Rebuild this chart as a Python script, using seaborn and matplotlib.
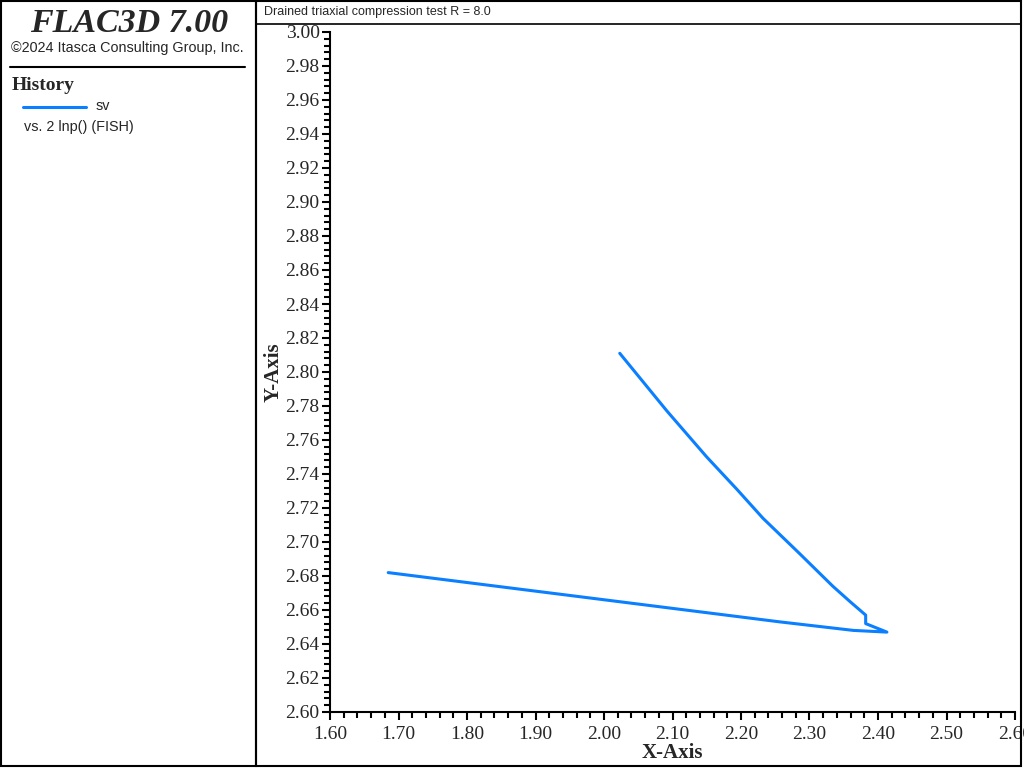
import matplotlib
matplotlib.use("Agg")
import matplotlib.pyplot as plt
from matplotlib.patches import Rectangle
from matplotlib.lines import Line2D
from matplotlib.ticker import MultipleLocator, FormatStrFormatter
import seaborn as sns
import pandas as pd

# sv history vs. 2 lnp() (FISH)
x_vals = [2.023, 2.092, 2.150, 2.194, 2.232, 2.286, 2.334, 2.359, 2.382, 2.382,
          2.413, 2.364, 2.257, 1.685]
y_vals = [2.811, 2.777, 2.750, 2.731, 2.714, 2.693, 2.674, 2.665, 2.657, 2.652,
          2.647, 2.648, 2.653, 2.682]

title_text = "Drained triaxial compression test R = 8.0"
series_name = "sv"
x_label = "X-Axis"
y_label = "Y-Axis"

df = pd.DataFrame({"x": x_vals, "y": y_vals})

sns.set_theme(style="white")
plt.rcParams["font.family"] = ["Liberation Sans", "DejaVu Sans"]

W, H = 1024, 768
fig = plt.figure(figsize=(W / 100, H / 100), dpi=100)


def fx(px):
    return px / W


def fy(py):
    return 1 - py / H


line_color = "#0a7fff"

# panel frames
fig.add_artist(Rectangle((fx(1), fy(766)), fx(255), 765 / H, transform=fig.transFigure,
                         fill=False, edgecolor="black", lw=1.5))
fig.add_artist(Rectangle((fx(256), fy(766)), fx(765), 765 / H, transform=fig.transFigure,
                         fill=False, edgecolor="black", lw=1.5))
fig.add_artist(Line2D([fx(256), fx(1021)], [fy(24), fy(24)], transform=fig.transFigure,
                      color="black", lw=1.2))

# left panel text
fig.text(fx(129), fy(23), "FLAC3D 7.00", family="Liberation Serif", weight="bold",
         style="italic", fontsize=24.5, ha="center", va="center")
fig.text(fx(127), fy(48), "\u00a92024 Itasca Consulting Group, Inc.", fontsize=10.4,
         ha="center", va="center")
fig.add_artist(Line2D([fx(10), fx(245)], [fy(67), fy(67)], transform=fig.transFigure,
                      color="black", lw=1.5))
fig.text(fx(12), fy(86), "History", family="Liberation Serif", weight="bold",
         fontsize=14, ha="left", va="center")
fig.add_artist(Line2D([fx(23), fx(86)], [fy(107), fy(107)], transform=fig.transFigure,
                      color=line_color, lw=2.2))
fig.text(fx(96), fy(106), series_name, fontsize=10.4, ha="left", va="center")
fig.text(fx(24), fy(127), "vs. 2 lnp() (FISH)", fontsize=10.4, ha="left", va="center")

# plot title
fig.text(fx(264), fy(12), title_text, fontsize=9, ha="left", va="center")

ax = fig.add_axes([fx(330), fy(712), fx(1015 - 330), (712 - 32) / H])
sns.lineplot(data=df, x="x", y="y", sort=False, estimator=None, color=line_color,
             lw=2.2, ax=ax)

ax.set_xlim(1.60, 2.60)
ax.set_ylim(2.60, 3.00)
ax.xaxis.set_major_locator(MultipleLocator(0.1))
ax.xaxis.set_minor_locator(MultipleLocator(0.02))
ax.yaxis.set_major_locator(MultipleLocator(0.02))
ax.yaxis.set_minor_locator(MultipleLocator(0.004))
ax.xaxis.set_major_formatter(FormatStrFormatter("%.2f"))
ax.yaxis.set_major_formatter(FormatStrFormatter("%.2f"))

for side in ["top", "right"]:
    ax.spines[side].set_visible(False)
for side in ["left", "bottom"]:
    ax.spines[side].set_color("black")
    ax.spines[side].set_linewidth(1.5)

ax.tick_params(which="major", direction="out", length=6, width=1.5, color="black",
               labelsize=14, pad=1.5, bottom=True, left=True)
ax.tick_params(axis="x", which="major", pad=4)
ax.tick_params(which="minor", direction="out", length=4, width=1.5, color="black",
               bottom=True, left=True)
for lab in ax.get_xticklabels() + ax.get_yticklabels():
    lab.set_family("Liberation Serif")

ax.set_xlabel(x_label, family="Liberation Serif", weight="bold", fontsize=15, labelpad=0)
ax.set_ylabel(y_label, family="Liberation Serif", weight="bold", fontsize=15, labelpad=1)
ax.grid(False)

fig.savefig("out.png", dpi=100)
